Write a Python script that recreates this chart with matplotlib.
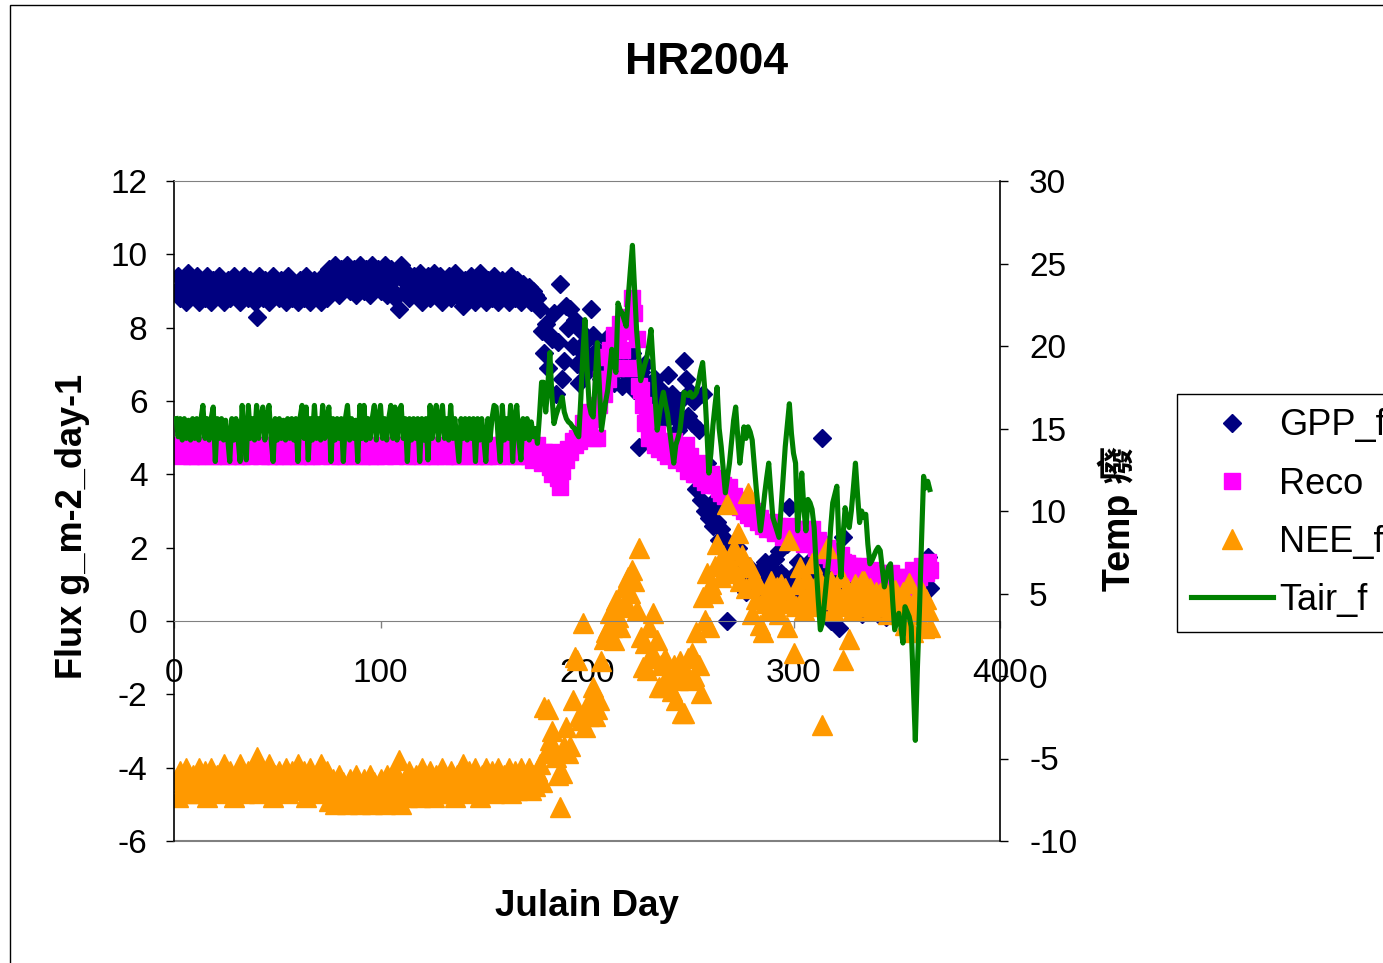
import numpy as np
import matplotlib
matplotlib.use('Agg')
import matplotlib.pyplot as plt
from matplotlib.patches import Rectangle

plt.rcParams['font.family'] = ['Liberation Sans', 'DejaVu Sans']
plt.rcParams['axes.unicode_minus'] = False

# daily fluxes (g m-2 day-1), day 1 .. 366
gpp_f = [
    9.0, 9.4, 8.8, 9.3, 9.1, 8.7, 9.5, 9.0, 8.9, 9.3,
    9.4, 8.7, 9.1, 9.2, 8.8, 9.4, 9.0, 8.7, 9.3, 9.1,
    8.9, 9.4, 9.2, 8.7, 9.0, 9.3, 8.8, 9.1, 9.4, 8.9,
    9.2, 8.7, 9.0, 9.4, 9.1, 8.8, 9.3, 9.0, 8.7, 8.3,
    9.4, 9.1, 8.8, 9.3, 9.0, 8.7, 9.2, 9.4, 8.9, 9.1,
    8.8, 9.3, 9.0, 8.7, 9.4, 9.1, 8.8, 9.2, 9.0, 8.7,
    9.3, 9.1, 8.8, 9.4, 9.0, 8.7, 9.2, 9.3, 8.9, 9.1,
    8.7, 9.4, 9.0, 8.8, 9.6, 9.2, 9.0, 9.7, 9.3, 8.9,
    9.6, 9.1, 9.4, 9.7, 9.0, 9.3, 9.6, 8.9, 9.2, 9.7,
    9.4, 9.0, 9.6, 9.3, 8.9, 9.7, 9.1, 9.4, 9.6, 9.0,
    9.3, 9.7, 8.9, 9.2, 9.6, 9.0, 8.8, 9.4, 8.5, 9.7,
    9.3, 9.0, 9.5, 8.8, 9.2, 9.4, 8.9, 9.1, 9.5, 8.7,
    9.2, 9.0, 9.4, 8.8, 9.1, 9.5, 8.9, 9.2, 9.4, 8.7,
    9.0, 9.3, 9.4, 8.8, 9.1, 9.5, 8.9, 9.2, 9.0, 8.6,
    9.3, 9.1, 8.8, 9.4, 9.0, 8.7, 9.2, 9.5, 8.9, 9.1,
    8.7, 9.3, 9.0, 8.8, 9.4, 9.1, 8.7, 9.2, 9.3, 8.9,
    9.1, 8.7, 9.4, 9.0, 8.8, 9.3, 9.1, 8.7, 9.2, 9.0,
    8.9, 9.1, 8.7, 9.0, 8.9, 8.8, 8.5, 7.9, 7.3, 8.1,
    6.9, 7.8, 7.7, 8.4, 6.2, 7.6, 9.2, 6.6, 7.1, 8.6,
    8.0, 8.5, 7.5, 8.2, 7.0, 6.5, 7.9, 7.3, 7.6, 6.8,
    7.2, 8.5, 7.8, 6.9, 7.4, 7.1, 6.6, 7.0, 7.7, 6.8,
    7.3, 7.0, 6.5, 6.8, 7.1, 7.1, 6.4, 7.9, 6.9, 6.7,
    6.9, 7.3, 6.3, 6.5, 4.75, 6.8, 6.6, 7.0, 6.4, 5.9,
    6.2, 5.8, 6.6, 6.0, 5.7, 6.3, 5.5, 5.9, 6.7, 5.6,
    6.2, 5.8, 5.5, 5.2, 6.0, 5.4, 7.1, 6.6, 5.6, 6.25,
    5.4, 6.0, 3.6, 5.2, 3.3, 6.2, 3.0, 4.3, 2.8, 3.2,
    2.6, 3.1, 2.7, 2.2, 2.5, 2.3, 1.9, 0.0, 2.0, 1.6,
    1.8, 1.4, 2.0, 1.1, 1.6, 1.3, 0.8, 1.5, 1.0, 1.2,
    1.1, 1.1, 0.7, 1.4, 0.9, 1.6, 1.2, 0.5, 1.0, 1.4,
    1.7, 0.9, 1.9, 1.3, 0.6, 1.2, 2.1, 3.1, 1.1, 0.8,
    1.3, 1.6, 0.9, 1.4, 1.1, 0.4, 1.5, 1.0, 1.7, 1.2,
    0.7, 1.1, 1.4, 5.0, 1.2, 0.3, 0.9, 0.0, 1.3, 0.6,
    1.1, -0.2, 0.8, 2.3, 0.5, 1.0, 0.3, 1.2, 0.7, 0.4,
    0.65, 1.0, 0.2, 0.8, 0.5, 0.9, 0.3, 0.3, 0.7, 0.5,
    0.2, 0.8, 0.4, 0.6, 0.1, 0.5, 0.9, 0.3, 0.6, 0.2,
    0.5, 0.8, 0.1, 0.4, 0.7, 0.03, 0.5, 0.2, 0.6, 0.4,
    0.8, 0.5, 1.2, 0.9, 1.75, 0.9,
]

reco = [
    4.7, 4.6, 4.8, 4.5, 4.7, 4.6, 4.8, 4.5, 4.6, 4.7,
    4.5, 4.8, 4.6, 4.7, 4.5, 4.6, 4.8, 4.6, 4.5, 4.7,
    4.6, 4.8, 4.5, 4.7, 4.6, 4.5, 4.8, 4.6, 4.7, 4.5,
    4.8, 4.6, 4.5, 4.7, 4.6, 4.8, 4.5, 4.7, 4.6, 4.6,
    4.7, 4.5, 4.8, 4.6, 4.7, 4.5, 4.6, 4.8, 4.5, 4.7,
    4.6, 4.8, 4.5, 4.6, 4.7, 4.5, 4.8, 4.6, 4.7, 4.5,
    4.7, 4.6, 4.8, 4.5, 4.6, 4.7, 4.5, 4.8, 4.6, 4.7,
    4.5, 4.6, 4.8, 4.6, 4.7, 4.5, 4.7, 4.6, 4.8, 4.5,
    4.6, 4.7, 4.5, 4.8, 4.6, 4.7, 4.5, 4.6, 4.8, 4.7,
    4.5, 4.7, 4.6, 4.8, 4.5, 4.6, 4.7, 4.5, 4.8, 4.6,
    4.7, 4.5, 4.6, 4.8, 4.7, 4.6, 4.5, 4.8, 4.6, 4.7,
    4.6, 4.8, 4.5, 4.7, 4.6, 4.5, 4.8, 4.6, 4.7, 4.5,
    4.7, 4.6, 4.8, 4.5, 4.6, 4.7, 4.5, 4.8, 4.6, 4.7,
    4.5, 4.7, 4.6, 4.8, 4.5, 4.6, 4.7, 4.5, 4.8, 4.6,
    4.6, 4.8, 4.5, 4.7, 4.6, 4.5, 4.8, 4.6, 4.7, 4.5,
    4.7, 4.5, 4.6, 4.8, 4.6, 4.7, 4.5, 4.6, 4.8, 4.7,
    4.5, 4.7, 4.6, 4.8, 4.5, 4.6, 4.7, 4.5, 4.6, 4.8,
    4.6, 4.5, 4.7, 4.4, 4.6, 4.8, 4.5, 4.3, 4.6, 4.4,
    4.5, 4.2, 4.0, 4.6, 4.3, 3.9, 3.65, 4.1, 4.5, 4.4,
    4.7, 4.6, 4.9, 4.8, 5.0, 4.9, 5.1, 5.4, 5.3, 5.7,
    5.2, 5.5, 5.0, 5.6, 5.0, 5.9, 6.6, 6.2, 7.2, 6.6,
    7.4, 6.9, 7.8, 6.9, 7.6, 8.1, 7.4, 7.9, 8.3, 7.9,
    6.9, 8.8, 8.4, 7.7, 6.4, 6.3, 5.9, 5.4, 5.7, 5.0,
    5.3, 5.0, 4.8, 5.1, 4.7, 4.9, 4.75, 4.6, 4.5, 4.7,
    4.6, 4.9, 4.4, 4.5, 4.5, 4.6, 4.3, 4.8, 4.1, 4.5,
    4.2, 4.0, 4.0, 4.3, 3.9, 4.2, 3.8, 3.9, 3.7, 4.0,
    3.9, 3.7, 3.8, 3.6, 3.5, 3.7, 3.4, 3.6, 3.65, 3.3,
    3.4, 3.2, 3.3, 3.1, 3.2, 3.0, 3.1, 2.9, 3.0, 2.8,
    2.9, 3.0, 2.7, 2.8, 2.6, 2.7, 2.5, 2.6, 2.7, 2.5,
    2.4, 2.6, 2.56, 2.5, 2.3, 2.5, 2.4, 2.6, 2.3, 2.4,
    2.3, 2.5, 2.2, 2.4, 2.1, 2.3, 2.5, 2.2, 2.5, 2.1,
    2.0, 2.2, 1.9, 2.1, 1.8, 2.0, 1.9, 1.7, 1.8, 1.6,
    1.7, 1.5, 1.8, 1.6, 1.4, 1.58, 1.5, 1.3, 1.5, 1.4,
    1.3, 1.5, 1.2, 1.4, 1.3, 1.1, 1.4, 1.2, 1.3, 1.0,
    1.2, 1.3, 1.1, 1.2, 1.0, 1.1, 1.3, 1.0, 1.2, 0.9,
    1.1, 1.0, 1.2, 0.9, 1.1, 1.0, 1.2, 1.4, 1.3, 1.1,
    1.2, 1.5, 1.4, 1.3, 1.6, 1.4,
]

nee_f = [
    -4.3, -4.8, -4.1, -4.6, -4.4, -4.0, -4.7, -4.4, -4.2, -4.6,
    -4.7, -4.0, -4.4, -4.5, -4.1, -4.8, -4.3, -4.0, -4.6, -4.4,
    -4.2, -4.7, -4.5, -3.9, -4.3, -4.6, -4.1, -4.4, -4.8, -4.2,
    -4.5, -3.9, -4.3, -4.7, -4.4, -4.1, -4.6, -4.3, -4.0, -3.7,
    -4.7, -4.4, -4.1, -4.6, -4.3, -3.9, -4.5, -4.8, -4.2, -4.4,
    -4.1, -4.6, -4.3, -4.0, -4.7, -4.4, -4.1, -4.5, -4.3, -3.9,
    -4.6, -4.4, -4.1, -4.8, -4.3, -4.0, -4.5, -4.6, -4.2, -4.4,
    -3.9, -4.7, -4.3, -4.1, -4.9, -4.5, -4.3, -5.0, -4.6, -4.2,
    -4.9, -4.4, -4.7, -5.0, -4.3, -4.6, -4.9, -4.2, -4.5, -5.0,
    -4.7, -4.3, -4.9, -4.6, -4.2, -5.0, -4.4, -4.7, -4.9, -4.3,
    -4.6, -5.0, -4.2, -4.5, -4.9, -4.3, -4.1, -4.7, -3.8, -5.0,
    -4.6, -4.3, -4.8, -4.1, -4.5, -4.7, -4.2, -4.4, -4.8, -4.0,
    -4.5, -4.3, -4.7, -4.1, -4.4, -4.8, -4.2, -4.5, -4.7, -4.0,
    -4.3, -4.6, -4.7, -4.1, -4.4, -4.8, -4.2, -4.5, -4.3, -3.9,
    -4.6, -4.4, -4.1, -4.7, -4.3, -4.0, -4.5, -4.8, -4.2, -4.4,
    -4.0, -4.6, -4.3, -4.1, -4.7, -4.4, -4.0, -4.5, -4.6, -4.2,
    -4.4, -4.0, -4.7, -4.3, -4.1, -4.6, -4.4, -4.0, -4.5, -4.3,
    -4.3, -4.0, -4.6, -4.2, -4.5, -4.1, -3.9, -4.4, -2.35, -3.6,
    -2.4, -3.25, -3.0, -3.5, -3.7, -4.2, -5.07, -4.15, -3.4, -2.9,
    -3.6, -3.4, -2.15, -0.98, -1.06, -2.6, -2.7, -0.05, -2.9, -2.35,
    -2.6, -2.07, -1.8, -2.6, -2.4, -2.15, -1.1, -0.5, -0.3, -0.2,
    0.22, -0.16, -0.52, 0.57, 0.1, -0.16, 0.38, 0.93, 0.5, 1.2,
    0.76, 1.4, 1.1, 0.3, 2.0, -0.44, -1.25, -0.6, -1.34, -0.16,
    -0.9, 0.22, -1.0, -0.52, -1.8, -1.2, -1.8, -1.0, -1.5, -1.34,
    -1.9, -1.2, -2.15, -1.6, -1.1, -2.5, -2.5, -1.4, -1.0, -1.6,
    -0.87, -1.5, -0.3, -1.2, -1.96, 0.65, 0.03, 1.3, -0.16, 1.0,
    0.76, 1.5, 2.1, 1.5, 1.2, 1.8, 1.6, 3.2, 1.7, 1.4,
    2.0, 1.3, 2.4, 1.1, 1.8, 1.5, 0.9, 3.5, 1.47, 0.2,
    1.2, 0.6, 1.0, -0.1, -0.3, 0.5, 0.8, 0.3, 1.1, 0.4,
    0.7, 0.93, 0.2, 1.0, 0.5, 0.9, -0.16, 2.2, 0.6, -0.87,
    0.4, 1.0, 1.47, 0.6, 0.3, 1.2, 0.8, 0.5, 1.58, 0.9,
    0.7, 0.4, 1.1, -2.84, 0.93, 2.0, 0.6, 1.1, 0.3, 0.8,
    0.5, 0.65, 1.2, -1.07, 0.4, 0.9, -0.5, 0.6, 0.3, 1.0,
    0.8, 0.5, 1.1, 1.1, 0.4, 0.7, 0.9, 0.3, 0.6, 0.8,
    0.5, 0.76, 0.4, 0.9, 0.6, 0.2, 0.7, 0.5, 0.85, 0.3,
    0.6, 0.4, 0.8, -0.1, 0.5, 1.04, 0.3, -0.3, 0.6, 0.2,
    0.5, 0.8, -0.2, 0.6, 0.3, -0.16,
]

# daily air temperature (deg C), right axis
tair_f = [
    15.6, 14.5, 15.6, 14.3, 15.6, 14.4, 15.5, 14.3, 15.6, 14.4,
    15.6, 14.3, 15.5, 16.4, 14.4, 15.6, 14.3, 15.6, 16.3, 13.0,
    15.6, 14.4, 15.6, 14.3, 15.5, 14.4, 13.0, 15.6, 14.3, 15.6,
    14.4, 13.0, 16.4, 14.3, 13.1, 16.4, 14.4, 15.6, 14.3, 16.4,
    14.4, 15.6, 16.3, 14.3, 15.6, 16.4, 14.4, 13.0, 15.6, 14.3,
    15.6, 14.4, 15.5, 14.3, 15.6, 14.4, 15.6, 14.3, 15.6, 13.0,
    15.6, 16.4, 14.4, 16.3, 13.1, 15.6, 14.3, 16.4, 14.4, 15.6,
    14.3, 16.4, 14.4, 15.6, 16.3, 13.0, 15.6, 14.3, 15.6, 14.4,
    15.6, 13.0, 15.6, 16.4, 14.3, 15.6, 14.4, 15.5, 13.0, 16.4,
    14.4, 16.4, 14.3, 15.6, 14.4, 15.6, 16.4, 14.3, 15.6, 16.4,
    14.4, 15.6, 14.3, 15.6, 16.4, 14.4, 16.3, 14.3, 15.6, 16.4,
    14.4, 15.6, 13.0, 15.6, 14.3, 15.6, 14.4, 15.6, 13.0, 15.6,
    14.3, 15.6, 13.1, 16.4, 14.4, 15.6, 16.4, 14.3, 15.6, 16.4,
    14.4, 15.6, 14.3, 16.4, 14.4, 15.6, 14.3, 13.0, 15.6, 14.4,
    15.6, 14.3, 15.6, 14.4, 15.6, 13.0, 15.6, 14.3, 15.6, 14.4,
    13.0, 15.6, 14.3, 15.6, 16.4, 16.3, 14.4, 13.0, 16.4, 14.3,
    15.6, 14.4, 16.4, 13.0, 15.6, 16.4, 14.3, 13.1, 15.6, 14.4,
    15.6, 14.3, 15.4, 14.5, 15.0, 14.1, 15.8, 17.8, 17.8, 16.0,
    17.5, 19.6, 17.0, 15.3, 15.8, 16.2, 16.5, 16.9, 16.0, 15.6,
    15.4, 15.3, 15.1, 15.0, 14.7, 14.5, 16.8, 19.5, 21.6, 18.8,
    16.5, 15.9, 15.7, 18.0, 20.2, 17.6, 14.9, 15.8, 16.6, 17.3,
    18.5, 19.8, 19.0, 18.4, 22.6, 22.2, 22.0, 21.6, 21.2, 23.0,
    24.6, 26.1, 23.5, 21.0, 19.4, 17.9, 18.4, 18.9, 19.3, 20.1,
    21.0, 18.9, 16.8, 14.9, 15.8, 16.6, 17.2, 16.5, 15.9, 14.9,
    13.9, 12.9, 14.0, 14.4, 14.9, 16.0, 17.2, 17.1, 17.0, 17.2,
    16.9, 17.0, 17.2, 17.8, 18.5, 19.0, 17.4, 15.0, 12.3, 13.5,
    15.2, 16.4, 17.5, 15.0, 13.9, 12.5, 11.1, 12.0, 12.9, 14.2,
    15.5, 16.3, 14.5, 12.9, 14.0, 15.1, 14.4, 15.1, 14.8, 14.3,
    12.8, 11.3, 10.0, 8.8, 9.8, 11.0, 12.0, 12.9, 11.2, 9.6,
    9.2, 8.8, 8.4, 10.2, 12.1, 13.9, 15.2, 16.5, 14.7, 13.5,
    12.9, 8.8, 10.6, 12.3, 10.2, 8.8, 10.7, 10.5, 10.1, 9.0,
    6.6, 4.6, 2.8, 3.2, 4.5, 5.8, 7.0, 9.0, 10.5, 11.0,
    11.5, 8.0, 6.0, 8.5, 10.2, 9.4, 9.0, 10.0, 11.4, 12.9,
    11.0, 9.3, 10.0, 9.6, 9.8, 8.0, 6.8, 7.0, 7.3, 7.6,
    7.8, 7.6, 6.5, 5.4, 6.0, 6.6, 6.8, 4.6, 2.8, 3.3,
    3.8, 3.0, 2.0, 4.2, 3.9, 3.6, 3.0, -0.5, -3.9, 0.5,
    4.0, 8.2, 12.1, 11.4, 11.8, 11.3,
]

fig = plt.figure(figsize=(13.83, 9.63), dpi=100)
ax = fig.add_axes([174 / 1383, 1 - 841 / 963, 826 / 1383, 660 / 963])

ax.plot(np.arange(1, len(gpp_f) + 1), gpp_f, ls='none', marker='D', ms=9.5,
        color='#000080', mec='#000080', label='GPP_f')
ax.plot(np.arange(1, len(reco) + 1), reco, ls='none', marker='s', ms=11,
        color='#FF00FF', mec='#FF00FF', label='Reco')
ax.plot(np.arange(1, len(nee_f) + 1), nee_f, ls='none', marker='^', ms=14,
        color='#FF9900', mec='#FF9900', label='NEE_f')

ax2 = ax.twinx()
ax2.plot(np.arange(1, len(tair_f) + 1), tair_f, color='#008000', lw=3.7,
         label='Tair_f')

# left axis
ax.set_xlim(0, 400)
ax.set_ylim(-6, 12)
ax.set_xticks([0, 100, 200, 300, 400])
ax.set_yticks(range(-6, 13, 2))
ax.tick_params(axis='y', direction='out', length=6, width=1, labelsize=24, pad=13)
ax.tick_params(axis='x', direction='out', length=5, width=1, color='#808080',
               labelsize=24, pad=22)

# right axis
ax2.set_ylim(-10, 30)
ax2.set_yticks(range(-10, 31, 5))
ax2.tick_params(axis='y', direction='out', length=6, width=1, labelsize=24, pad=15)

# x axis crosses at zero, plot area outlined in grey
ax.spines['bottom'].set_position(('data', 0))
ax.spines['bottom'].set_color('#808080')
ax.spines['top'].set_color('#808080')
ax.spines['right'].set_visible(False)
ax.spines['left'].set_linewidth(1.2)
ax.axhline(-6, color='#808080', lw=1.5, clip_on=False)
for s in ['top', 'bottom', 'left']:
    ax2.spines[s].set_visible(False)
ax2.spines['right'].set_linewidth(1.2)

ax.set_ylabel('Flux g_m-2_day-1', fontsize=26, fontweight='bold')
ax.yaxis.set_label_coords(-0.102, 0.476)
ax.set_xlabel('Julain Day', fontsize=26.5, fontweight='bold')
ax.xaxis.set_label_coords(0.5, -0.073)
ax2.set_ylabel('Temp 癈', fontsize=27, fontweight='bold',
               family=['Liberation Sans', 'Noto Sans CJK SC'])
ax2.yaxis.set_label_coords(1.118, 0.489)

fig.text(707 / 1383, 1 - 62 / 963, 'HR2004', fontsize=32, fontweight='bold',
         ha='center', va='center')

h1, l1 = ax.get_legend_handles_labels()
h2, l2 = ax2.get_legend_handles_labels()
leg = fig.legend(h1 + h2, l1 + l2, loc='upper left',
                 bbox_to_anchor=(1177 / 1383, 1 - 394 / 963), borderaxespad=0,
                 fontsize=26, frameon=True, fancybox=False, framealpha=1,
                 edgecolor='black', labelspacing=0.64, handlelength=2.25,
                 handletextpad=0.18, borderpad=0.4)
leg.get_frame().set_linewidth(1)

# chart area border
fig.add_artist(Rectangle((10 / 1383, -0.05), 1.1, 1.05 - 5 / 963,
                         transform=fig.transFigure, fill=False,
                         ec='black', lw=1))

fig.savefig('out.png', dpi=100)
